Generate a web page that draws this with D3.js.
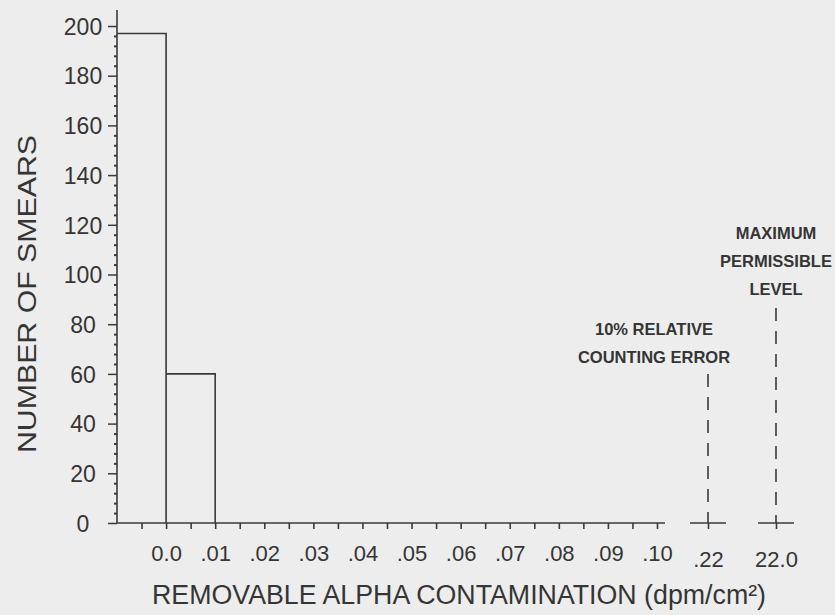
<!DOCTYPE html>
<html>
<head>
<meta charset="utf-8">
<script src="https://cdn.jsdelivr.net/npm/d3@7"></script>
<style>
  html, body { margin: 0; padding: 0; background: #ededed; }
  svg { display: block; }
  text { font-family: "Liberation Sans", Arial, Helvetica, sans-serif; fill: #353535; }
</style>
</head>
<body>
<script>
// ---- data ----
const binStarts = [-0.01, 0.0];
const binEnds = [0.0, 0.01];
const smearCounts = [197, 60];

const yTickValues = [0, 20, 40, 60, 80, 100, 120, 140, 160, 180, 200];
const yMinorStep = 4;

const xTickValues = [0.0, 0.01, 0.02, 0.03, 0.04, 0.05, 0.06, 0.07, 0.08, 0.09, 0.10];
const xTickLabels = ["0.0", ".01", ".02", ".03", ".04", ".05", ".06", ".07", ".08", ".09", ".10"];
const xMinorStep = 0.005;

const breakLabels = [".22", "22.0"];
const refLineAt = [".22", "22.0"];
const refLineNotes = [
  ["10% RELATIVE", "COUNTING ERROR"],
  ["MAXIMUM", "PERMISSIBLE", "LEVEL"]
];

const yTitle = "NUMBER OF SMEARS";
const xTitle = "REMOVABLE ALPHA CONTAMINATION (dpm/cm\u00B2)";

// ---- layout ----
const W = 835, H = 615;
const ink = "#3a3a3a";
const svg = d3.select("body").append("svg").attr("width", W).attr("height", H);
svg.append("rect").attr("width", W).attr("height", H).attr("fill", "#ededed");

const x = d3.scaleLinear().domain([-0.01, 0.10]).range([117, 657]);
const xb = d3.scalePoint().domain(breakLabels).range([708, 776]);
const y = d3.scaleLinear().domain([0, 200]).range([523, 26]);

// ---- y axis ----
const yMinor = d3.range(0, 200 + 1e-9, yMinorStep).filter(v => !yTickValues.includes(v));
const gYminor = svg.append("g").attr("transform", `translate(${x(-0.01)},0)`)
  .call(d3.axisLeft(y).tickValues(yMinor).tickSize(3).tickFormat(""));
gYminor.select(".domain").remove();
gYminor.selectAll("line").attr("stroke", ink).attr("stroke-width", 2);

const gY = svg.append("g").attr("transform", `translate(${x(-0.01)},0)`)
  .call(d3.axisLeft(y).tickValues(yTickValues).tickSize(9).tickPadding(0));
gY.select(".domain").remove();
gY.selectAll("line").attr("stroke", ink).attr("stroke-width", 1.5);
gY.selectAll("text")
  .attr("x", -34).attr("text-anchor", "middle").attr("dy", "0.36em")
  .style("font-size", "23px").attr("fill", ink);

svg.append("line")
  .attr("x1", x(-0.01)).attr("x2", x(-0.01))
  .attr("y1", 10).attr("y2", y(0))
  .attr("stroke", ink).attr("stroke-width", 1.6);

// ---- x axis ----
const xMinor = d3.range(-0.01 + xMinorStep, 0.10 + 1e-9, xMinorStep);
const gX = svg.append("g").attr("transform", `translate(0,${y(0)})`)
  .call(d3.axisBottom(x).tickValues(xMinor).tickSize(6).tickFormat(""));
gX.select(".domain").remove();
gX.selectAll("line").attr("stroke", ink).attr("stroke-width", 1.6);

const gXl = svg.append("g").attr("transform", `translate(0,${y(0)})`)
  .call(d3.axisBottom(x).tickValues(xTickValues).tickSize(0).tickPadding(22)
    .tickFormat((d, i) => xTickLabels[i]));
gXl.select(".domain").remove();
gXl.selectAll("text").style("font-size", "22px").attr("fill", ink);

svg.append("line")
  .attr("x1", x(-0.01)).attr("x2", x(0.10) + 8)
  .attr("y1", y(0)).attr("y2", y(0))
  .attr("stroke", ink).attr("stroke-width", 1.6);

// broken-axis stubs
const gB = svg.append("g").attr("transform", `translate(0,${y(0)})`)
  .call(d3.axisBottom(xb).tickSize(6).tickPadding(22));
gB.select(".domain").remove();
gB.selectAll("line").attr("stroke", ink).attr("stroke-width", 1.6);
gB.selectAll("text").style("font-size", "22px").attr("fill", ink);
svg.selectAll(".stub").data(breakLabels).join("line")
  .attr("class", "stub")
  .attr("x1", d => xb(d) - 18).attr("x2", d => xb(d) + 18)
  .attr("y1", y(0)).attr("y2", y(0))
  .attr("stroke", ink).attr("stroke-width", 1.6);

// ---- bars (outline histogram) ----
svg.selectAll(".bar").data(smearCounts).join("path")
  .attr("class", "bar")
  .attr("d", (d, i) => {
    const x0 = x(binStarts[i]), x1 = x(binEnds[i]), yt = y(d), yb = y(0);
    return `M${x0},${yt}L${x1},${yt}L${x1},${yb}`;
  })
  .attr("fill", "none").attr("stroke", ink).attr("stroke-width", 1.6);

// ---- reference lines & notes ----
const noteFont = 16.5, noteGap = 28;
refLineAt.forEach((lab, k) => {
  const cx = xb(lab);
  const lines = refLineNotes[k];
  const lastBaseline = k === 0 ? 363 : 295;
  const g = svg.append("g");
  g.selectAll("text").data(lines).join("text")
    .attr("x", k === 0 ? cx - 54 : cx)
    .attr("y", (d, i) => lastBaseline - (lines.length - 1 - i) * noteGap)
    .attr("text-anchor", "middle")
    .style("font-size", noteFont + "px").style("font-weight", "bold")
    .attr("fill", ink)
    .text(d => d);
  svg.append("line")
    .attr("x1", cx).attr("x2", cx)
    .attr("y1", k === 0 ? 374 : 308).attr("y2", y(0))
    .attr("stroke", ink).attr("stroke-width", 1.6)
    .attr("stroke-dasharray", "13,10");
});

// ---- titles ----
svg.append("text")
  .attr("transform", `translate(36,294) rotate(-90)`)
  .attr("text-anchor", "middle")
  .attr("textLength", 318).attr("lengthAdjust", "spacingAndGlyphs")
  .style("font-size", "26px").attr("fill", ink)
  .text(yTitle);

svg.append("text")
  .attr("x", 459).attr("y", 604)
  .attr("text-anchor", "middle")
  .attr("textLength", 614).attr("lengthAdjust", "spacingAndGlyphs")
  .style("font-size", "27px").attr("fill", ink)
  .text(xTitle);
</script>
</body>
</html>
